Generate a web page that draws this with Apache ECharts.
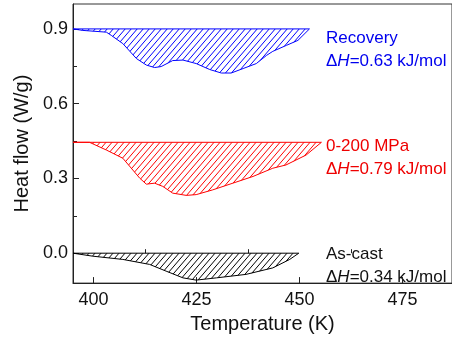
<!DOCTYPE html>
<html>
<head>
<meta charset="utf-8">
<script src="https://cdn.jsdelivr.net/npm/echarts@6/dist/echarts.min.js"></script>
<style>
  html, body { margin: 0; padding: 0; background: #fff; }
  #main { width: 452px; height: 339px; }
</style>
</head>
<body>
<div id="main"></div>
<script>
// Recovery (blue)
const recTemp = [395, 397.4, 403.1, 404.3, 407.1, 410.4, 412.8, 414.8, 416.4, 419.2, 421.7, 424.9, 428.2, 431, 433.4, 436.3, 439.5, 442, 443.5, 446.8, 449.6, 452.4];
const recFlow = [0.9, 0.894, 0.887, 0.874, 0.841, 0.781, 0.755, 0.745, 0.749, 0.773, 0.775, 0.761, 0.737, 0.723, 0.723, 0.741, 0.761, 0.794, 0.81, 0.834, 0.854, 0.9];
const recBase = 0.9;
const recEnd = 452.4;

// 0-200 MPa (red)
const mpaTemp = [395, 399, 403.1, 407.1, 411.2, 412.8, 414.8, 416.8, 419.2, 422.5, 424.9, 428.9, 433.8, 438.7, 443.5, 446.7, 451.6, 455.3];
const mpaFlow = [0.445, 0.445, 0.414, 0.381, 0.301, 0.277, 0.281, 0.268, 0.241, 0.232, 0.235, 0.254, 0.281, 0.308, 0.341, 0.354, 0.394, 0.445];
const mpaBase = 0.445;
const mpaEnd = 455.3;

// As-cast (black)
const castTemp = [395, 399.8, 407.1, 413.6, 417.6, 421.7, 424.9, 429.8, 437, 443.5, 447.6, 449.8];
const castFlow = [0, -0.012, -0.025, -0.045, -0.072, -0.099, -0.108, -0.099, -0.085, -0.059, -0.025, 0];
const castBase = 0;
const castEnd = 449.8;

const xTicks = [400, 425, 450, 475];
const xMinor = [412.5, 437.5, 462.5];
const yTicks = [0, 0.3, 0.6, 0.9];
const yMinor = [0.15, 0.45, 0.75];

const labels = [
    { name: 'Recovery', dh: '0.63', color: '#0000ee', y: 40 },
    { name: '0-200 MPa', dh: '0.79', color: '#ee0000', y: 148 },
    { name: 'As-cast', dh: '0.34', color: '#111', y: 256 }
];

const FONT = "'Liberation Sans', Arial, sans-serif";

function hatch(color) {
    const c = document.createElement('canvas');
    c.width = 6; c.height = 7;
    const g = c.getContext('2d');
    g.strokeStyle = color;
    g.lineWidth = 1;
    g.beginPath();
    for (let k = -1; k <= 1; k++) {
        g.moveTo(k * 6, 7);
        g.lineTo(k * 6 + 6, 0);
    }
    g.stroke();
    return { image: c, repeat: 'repeat' };
}

function pairs(xs, ys) {
    return xs.map((x, i) => [x, ys[i]]);
}

function curve(name, xs, ys, base, color) {
    return {
        name, type: 'line', showSymbol: false, silent: true,
        data: pairs(xs, ys),
        lineStyle: { color, width: 1 },
        areaStyle: { origin: base, color: hatch(color), opacity: 1 }
    };
}

function baseline(xEnd, base, color) {
    return {
        type: 'line', showSymbol: false, silent: true,
        data: [[395, base], [xEnd, base]],
        lineStyle: { color, width: 1 }
    };
}

const chart = echarts.init(document.getElementById('main'));

const tickCommon = { inside: true, lineStyle: { color: '#222', width: 1 } };

chart.setOption({
    animation: false,
    textStyle: { fontFamily: FONT },
    grid: { left: 73, top: 4, right: -1, bottom: 54, show: true, borderColor: '#333', borderWidth: 1 },
    xAxis: [{
        type: 'value', min: 395, max: 487,
        name: 'Temperature (K)', nameLocation: 'middle', nameGap: 30,
        nameTextStyle: { fontSize: 20, color: '#111', fontFamily: FONT },
        axisLine: { show: true, onZero: false, lineStyle: { color: '#222' } },
        axisTick: Object.assign({ length: 6, customValues: xTicks }, tickCommon),
        axisLabel: { customValues: xTicks, fontSize: 18, color: '#111', margin: 8, fontFamily: FONT },
        splitLine: { show: false }
    }, {
        type: 'value', min: 395, max: 487, position: 'bottom',
        axisLine: { show: false },
        axisTick: Object.assign({ length: 4, customValues: xMinor }, tickCommon),
        axisLabel: { show: false },
        splitLine: { show: false }
    }],
    yAxis: [{
        type: 'value', min: -0.12, max: 1.0,
        name: 'Heat flow (W/g)', nameLocation: 'middle', nameGap: 35,
        nameTextStyle: { fontSize: 20, color: '#111', fontFamily: FONT },
        axisLine: { show: true, onZero: false, lineStyle: { color: '#222' } },
        axisTick: Object.assign({ length: 6, customValues: yTicks }, tickCommon),
        axisLabel: {
            customValues: yTicks, fontSize: 18, color: '#111', margin: 5, fontFamily: FONT,
            formatter: v => v.toFixed(1)
        },
        splitLine: { show: false }
    }, {
        type: 'value', min: -0.12, max: 1.0, position: 'left',
        axisLine: { show: false },
        axisTick: Object.assign({ length: 4, customValues: yMinor }, tickCommon),
        axisLabel: { show: false },
        splitLine: { show: false }
    }],
    series: [
        baseline(recEnd, recBase, '#0000ff'),
        curve('Recovery', recTemp, recFlow, recBase, '#0000ff'),
        baseline(mpaEnd, mpaBase, '#ff0000'),
        curve('0-200 MPa', mpaTemp, mpaFlow, mpaBase, '#ff0000'),
        baseline(castEnd, castBase, '#000000'),
        curve('As-cast', castTemp, castFlow, castBase, '#000000')
    ],
    graphic: labels.flatMap(l => [{
        type: 'text', left: 326, top: l.y - 10,
        style: { text: l.name, fill: l.color, font: '17px ' + FONT }
    }, {
        type: 'text', left: 326, top: l.y + 13,
        style: {
            text: '{n|Δ}{i|H}{n|=' + l.dh + ' kJ/mol}',
            rich: {
                n: { fill: l.color, font: '17px ' + FONT },
                i: { fill: l.color, font: 'italic 17px ' + FONT }
            }
        }
    }])
});
</script>
</body>
</html>
